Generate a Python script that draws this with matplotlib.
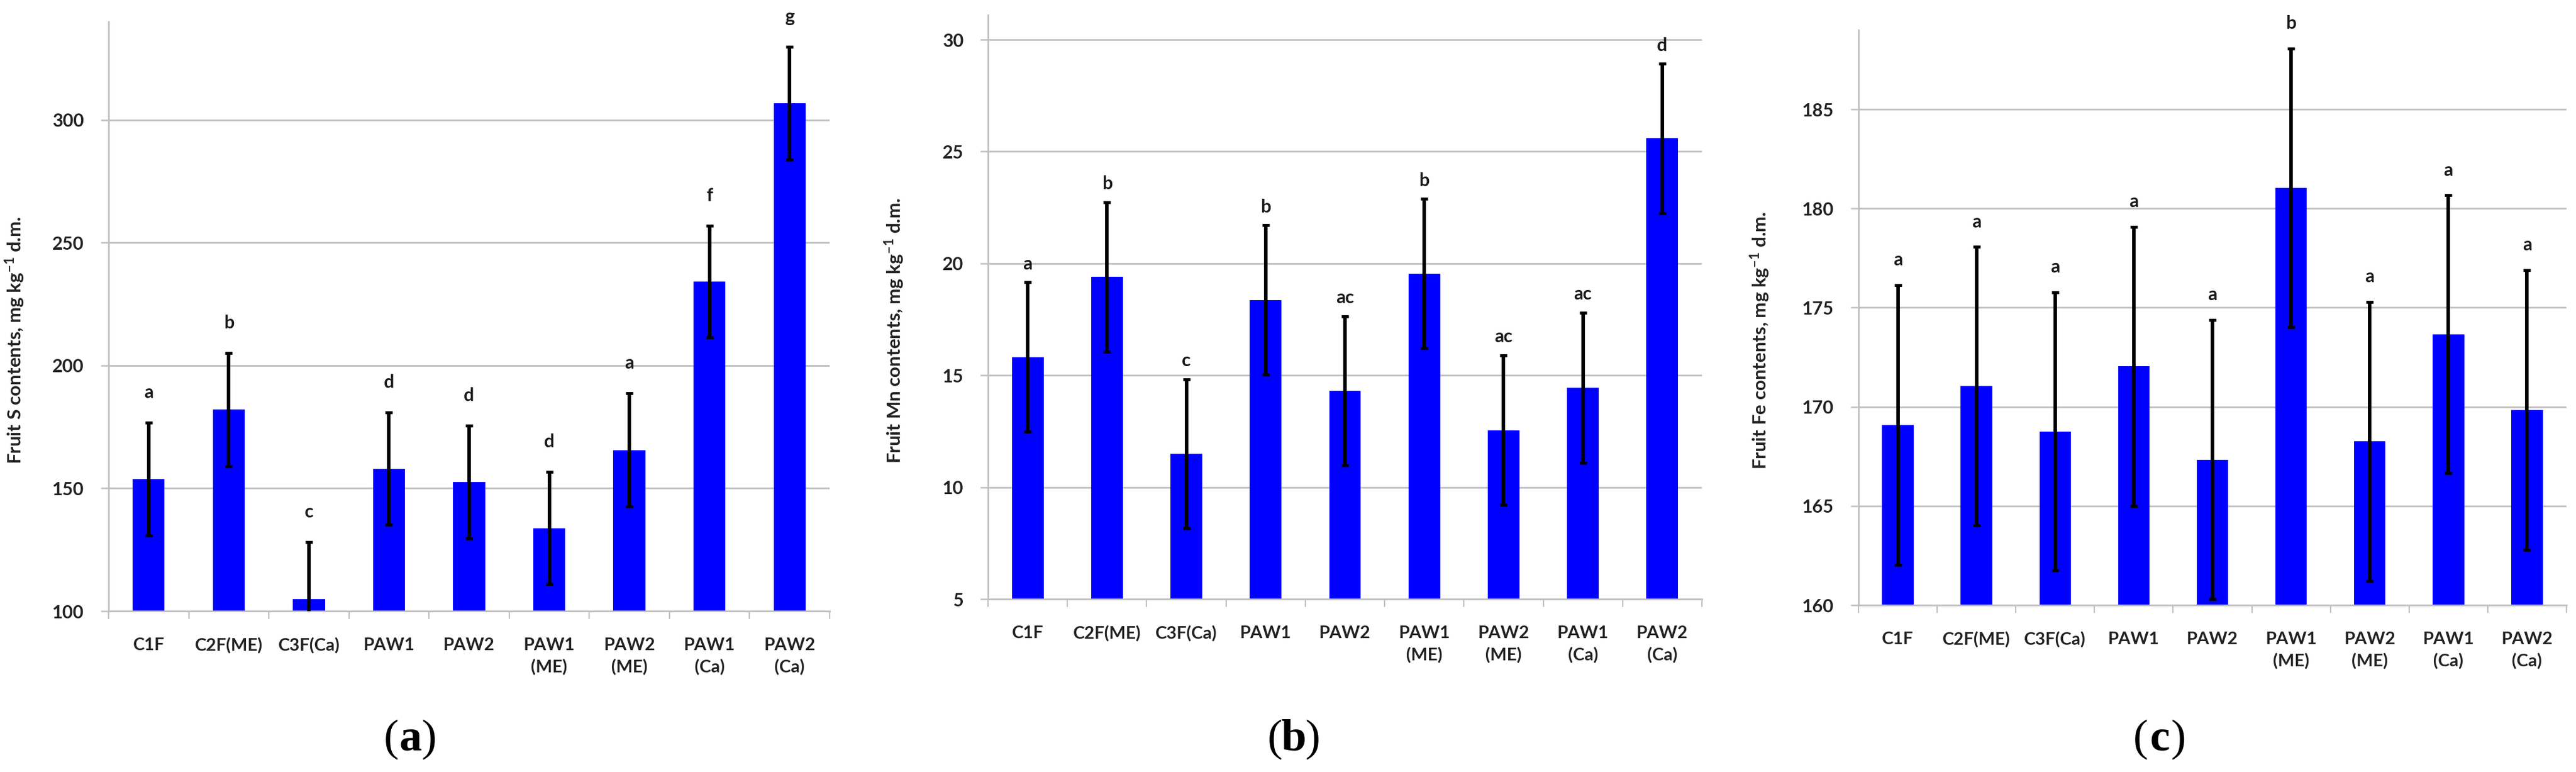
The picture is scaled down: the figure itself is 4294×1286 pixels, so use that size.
import matplotlib
matplotlib.use("Agg")
import matplotlib.pyplot as plt
import numpy as np

# ---------------- data ----------------
categories = ["C1F", "C2F(ME)", "C3F(Ca)", "PAW1", "PAW2",
              "PAW1\n(ME)", "PAW2\n(ME)", "PAW1\n(Ca)", "PAW2\n(Ca)"]

s_values = [153.8, 182.0, 105.0, 158.0, 152.6, 133.8, 165.6, 234.2, 306.8]
s_errors = [23.0, 23.2, 23.0, 22.8, 23.0, 22.8, 23.0, 22.8, 22.9]
s_letters = ["a", "b", "c", "d", "d", "d", "a", "f", "g"]
s_ylim = (100, 340)
s_yticks = [100, 150, 200, 250, 300]

mn_values = [15.82, 19.40, 11.50, 18.37, 14.31, 19.55, 12.55, 14.44, 25.59]
mn_errors = [3.33, 3.34, 3.33, 3.33, 3.33, 3.33, 3.34, 3.36, 3.33]
mn_letters = ["a", "b", "c", "b", "ac", "b", "ac", "ac", "d"]
mn_ylim = (5, 31.1)
mn_yticks = [5, 10, 15, 20, 25, 30]

fe_values = [169.08, 171.04, 168.76, 172.04, 167.34, 181.04, 168.26, 173.66, 169.85]
fe_errors = [7.05, 7.02, 7.01, 7.04, 7.05, 7.02, 7.04, 7.01, 7.05]
fe_letters = ["a", "a", "a", "a", "a", "b", "a", "a", "a"]
fe_ylim = (160, 189)
fe_yticks = [160, 165, 170, 175, 180, 185]

ylabels = [r"Fruit S contents, mg kg$^{-1}$ d.m.",
           r"Fruit Mn contents, mg kg$^{-1}$ d.m.",
           r"Fruit Fe contents, mg kg$^{-1}$ d.m."]
panel_tags = ["a", "b", "c"]

# ---------------- style ----------------
plt.rcParams["font.family"] = ["Lato", "DejaVu Sans"]
plt.rcParams["mathtext.fontset"] = "custom"
plt.rcParams["mathtext.rm"] = "Lato"
plt.rcParams["mathtext.bf"] = "Lato:bold"
plt.rcParams["mathtext.default"] = "bf"

W, H = 4294, 1286
DPI = 100
fig = plt.figure(figsize=(W / DPI, H / DPI), dpi=DPI)

GRID = "#C0C0C0"
BLUE = "#0000FF"

# axes boxes in pixels (left, top, right, bottom)
boxes = [(181, 36, 1383, 1018), (1647, 25, 2837, 998), (3098, 50, 4278, 1008)]
letter_offsets = [36, 22, 30]   # points above error bar top
tag_x = [684, 2157, 3600]
tag_y = 1232
ylabel_x = [-0.114, -0.115, -0.123]

panels = [
    (s_values, s_errors, s_letters, s_ylim, s_yticks),
    (mn_values, mn_errors, mn_letters, mn_ylim, mn_yticks),
    (fe_values, fe_errors, fe_letters, fe_ylim, fe_yticks),
]

x = np.arange(len(categories))

for i, (vals, errs, letters, ylim, yticks) in enumerate(panels):
    l, t, r, b = boxes[i]
    ax = fig.add_axes([l / W, 1 - b / H, (r - l) / W, (b - t) / H])
    ax.set_axisbelow(True)
    ax.bar(x, np.array(vals) - ylim[0], bottom=ylim[0], width=0.4,
           color=BLUE, zorder=2)
    ax.errorbar(x, vals, yerr=errs, fmt="none", ecolor="black",
                elinewidth=4.2, capsize=4.5, capthick=3.5, zorder=3,
                clip_on=True)
    for xi, v, e, lab in zip(x, vals, errs, letters):
        ax.annotate(lab, (xi, v + e), xytext=(0, letter_offsets[i]),
                    textcoords="offset points", ha="center", va="center",
                    fontsize=22, fontweight="bold", color="#1a1a1a",
                    annotation_clip=False)
    ax.set_xlim(-0.5, len(categories) - 0.5)
    ax.set_ylim(*ylim)
    ax.set_yticks(yticks)
    ax.set_yticklabels([str(v) for v in yticks], fontsize=22,
                       fontweight="bold", color="#222222")
    ax.set_xticks(x)
    ax.set_xticklabels(categories, fontsize=21, fontweight="bold",
                       color="#222222", linespacing=1.45)
    ax.set_xticks(np.arange(-0.5, len(categories) + 0.5, 1.0), minor=True)
    ax.tick_params(axis="x", which="major", length=0, pad=32)
    ax.tick_params(axis="x", which="minor", length=9, width=1.6,
                   color=GRID, direction="out")
    ax.tick_params(axis="y", which="major", length=9.4, width=1.8,
                   color=GRID, pad=20)
    ax.yaxis.grid(True, color=GRID, linewidth=2.0)
    ax.xaxis.grid(False)
    for side in ("top", "right"):
        ax.spines[side].set_visible(False)
    for side in ("left", "bottom"):
        ax.spines[side].set_color(GRID)
        ax.spines[side].set_linewidth(2.0)
    ax.set_ylabel(ylabels[i], fontsize=22.5, fontweight="bold",
                  color="#222222")
    ax.yaxis.set_label_coords(ylabel_x[i], 0.46)

    # panel tag "(x)" with bold letter
    fx = tag_x[i] / W
    fy = 1 - tag_y / H
    fig.text(fx, fy, panel_tags[i], fontsize=54, fontweight="bold",
             family="Liberation Serif", ha="center", va="center")
    fig.text(fx - 19 / W, fy, "(", fontsize=54, family="Liberation Serif",
             ha="right", va="center")
    fig.text(fx + 19 / W, fy, ")", fontsize=54, family="Liberation Serif",
             ha="left", va="center")

fig.savefig("out.png", dpi=DPI, facecolor="white")
